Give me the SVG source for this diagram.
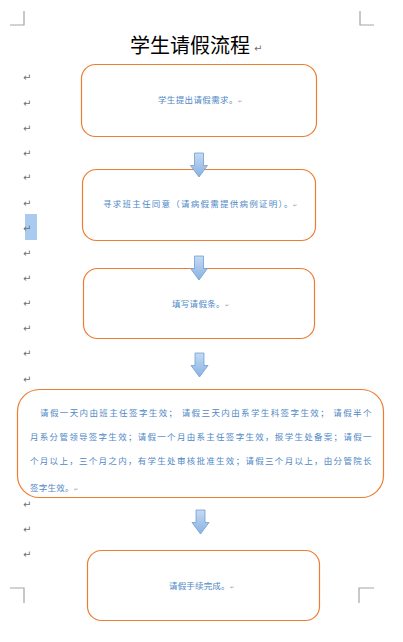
<svg xmlns="http://www.w3.org/2000/svg" width="403" height="642" viewBox="0 0 403 642">
<style>
.crn{stroke:#a6a6a6;stroke-width:1.2;fill:none}
.box{fill:#fff;stroke:#ed7d31;stroke-width:1.2}
.t{font-family:"Noto Sans CJK SC","Noto Sans",sans-serif;font-size:8.5px;fill:#4f88c6;letter-spacing:0.5px}
.pm{font-family:"DejaVu Sans",sans-serif;font-size:10px;fill:#6f6f6f}
.pms{font-family:"DejaVu Sans",sans-serif;font-size:5px;fill:#a0a0a0}
.arr{fill:url(#ag);stroke:#6d9fd6;stroke-width:0.8}
</style>
<defs>
<linearGradient id="ag" x1="0" y1="0" x2="0" y2="1">
<stop offset="0" stop-color="#c6daf2"/>
<stop offset="1" stop-color="#88b2e2"/>
</linearGradient>
<path id="arrow" d="M-4.5 0H4.5V12.5H8.5L0 24L-8.5 12.5H-4.5Z"/>
</defs>
<rect width="403" height="642" fill="#fff"/>
<g id="page-corners">
<path class="crn" d="M10 25H24V11"/>
<path class="crn" d="M374 25H360V11"/>
<path class="crn" d="M10 588H24V603"/>
<path class="crn" d="M374 588H359V603"/>
</g>
<g id="paragraph-marks">
<rect x="25" y="214" width="12" height="26" fill="#a9cbef"/>
<text class="pm" x="23" y="81">↵</text>
<text class="pm" x="23" y="107">↵</text>
<text class="pm" x="23" y="132">↵</text>
<text class="pm" x="23" y="157">↵</text>
<text class="pm" x="23" y="181">↵</text>
<text class="pm" x="23" y="207">↵</text>
<text class="pm" x="23" y="232" fill="#4a6a8a">↵</text>
<text class="pm" x="23" y="257">↵</text>
<text class="pm" x="23" y="282">↵</text>
<text class="pm" x="23" y="307">↵</text>
<text class="pm" x="23" y="332">↵</text>
<text class="pm" x="23" y="357">↵</text>
<text class="pm" x="23" y="383">↵</text>
<text class="pm" x="23" y="508">↵</text>
<text class="pm" x="23" y="533">↵</text>
<text class="pm" x="23" y="558">↵</text>
</g>
<g id="title">
<text x="130" y="53" font-family="'Noto Sans CJK SC','Noto Sans',sans-serif" font-size="20" fill="#000">学生请假流程</text>
<text class="pm" x="254" y="52">↵</text>
</g>
<g id="node1">
<rect class="box" x="81.5" y="64.5" width="235" height="72" rx="14"/>
<text class="t" x="158" y="103" textLength="80">学生提出请假需求。</text>
<text class="pms" x="238" y="103">↵</text>
</g>
<g id="node2">
<rect class="box" x="82.5" y="169.5" width="233" height="71" rx="14"/>
<text class="t" x="103" y="207" textLength="190">寻求班主任同意（请病假需提供病例证明）。</text>
<text class="pms" x="293" y="207">↵</text>
</g>
<g id="node3">
<rect class="box" x="83.5" y="268.5" width="231" height="70" rx="14"/>
<text class="t" x="172" y="307" textLength="53">填写请假条。</text>
<text class="pms" x="225" y="307">↵</text>
</g>
<g id="node4">
<rect class="box" x="17.5" y="389.5" width="366" height="108" rx="22"/>
<text class="t" x="40" y="416" textLength="332">请假一天内由班主任签字生效； 请假三天内由系学生科签字生效； 请假半个</text>
<text class="t" x="30" y="440" textLength="342">月系分管领导签字生效；请假一个月由系主任签字生效，报学生处备案；请假一</text>
<text class="t" x="30" y="464" textLength="342">个月以上，三个月之内，有学生处审核批准生效；请假三个月以上，由分管院长</text>
<text class="t" x="30" y="491" textLength="44">签字生效。</text>
<text class="pms" x="74" y="491">↵</text>
</g>
<g id="node5">
<rect class="box" x="87.5" y="550.5" width="232" height="70" rx="14"/>
<text class="t" x="169" y="589" textLength="61">请假手续完成。</text>
<text class="pms" x="230" y="589">↵</text>
</g>
<g id="connectors">
<use href="#arrow" class="arr" x="199" y="153"/>
<use href="#arrow" class="arr" x="199" y="256"/>
<use href="#arrow" class="arr" x="199.5" y="353"/>
<use href="#arrow" class="arr" x="200.5" y="510"/>
</g>
</svg>
